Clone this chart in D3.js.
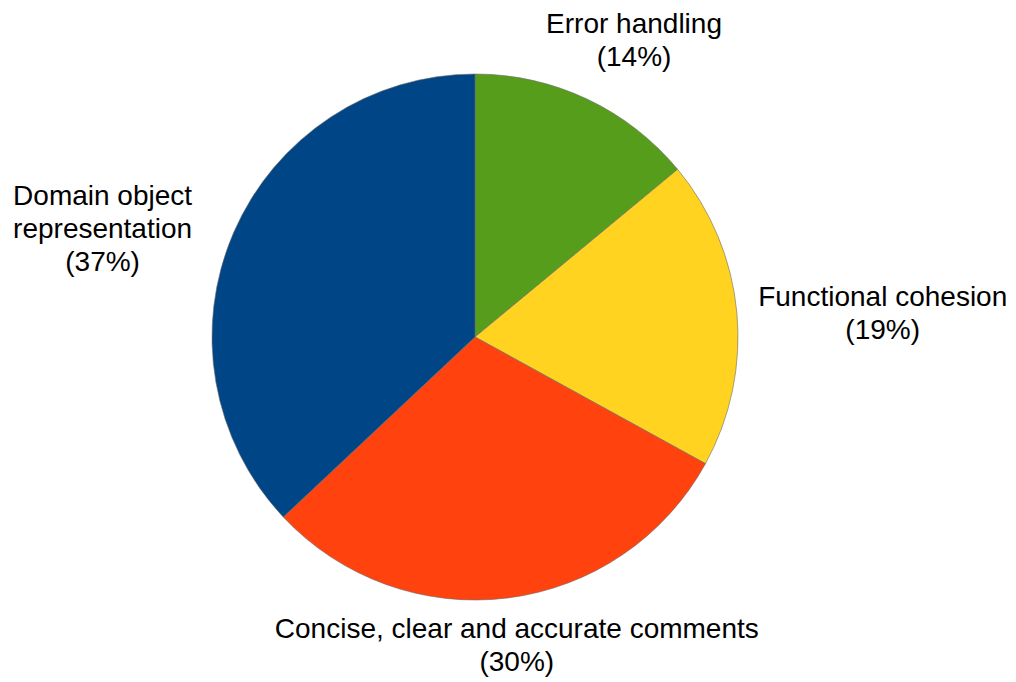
<!DOCTYPE html>
<html>
<head>
<meta charset="utf-8">
<script src="https://cdn.jsdelivr.net/npm/d3@7"></script>
<style>
  html, body { margin: 0; padding: 0; background: #fff; }
  svg { display: block; }
</style>
</head>
<body>
<svg id="chart" width="1016" height="682"></svg>
<script>
// Share of each quality attribute, clockwise from 12 o'clock
const categories = ["Error handling", "Functional cohesion", "Concise, clear and accurate comments", "Domain object representation"];
const labelLines = [["Error handling"], ["Functional cohesion"], ["Concise, clear and accurate comments"], ["Domain object", "representation"]];
const values = [14, 19, 30, 37];
const colors = ["#579d1c", "#ffd320", "#ff420e", "#004586"];

// Layout
const width = 1016, height = 682;
const cx = 475, cy = 337, radius = 263;
const labelGap = [32, 21, 12, 40];
const labelNudge = [[-4, -1], [1, 6], [-23, 3], [-12, 31]];
const fontSize = 28, lineHeight = 33;

const svg = d3.select("#chart");
const g = svg.append("g").attr("transform", `translate(${cx},${cy})`);

const pie = d3.pie().sort(null).value(d => d.value);
const data = pie(categories.map((c, i) => ({
  name: c, value: values[i], lines: labelLines[i], color: colors[i],
  gap: labelGap[i], nudge: labelNudge[i]
})));
const arc = d3.arc().innerRadius(0).outerRadius(radius);

g.selectAll("path.slice")
  .data(data)
  .join("path")
  .attr("class", "slice")
  .attr("d", arc)
  .attr("fill", d => d.data.color)
  .attr("stroke", "#6b6b6b")
  .attr("stroke-width", 0.6);

const labels = g.selectAll("text.label")
  .data(data)
  .join("text")
  .attr("class", "label")
  .attr("font-family", "'Liberation Sans', Arial, sans-serif")
  .attr("font-size", fontSize)
  .attr("fill", "#000")
  .attr("text-anchor", "middle");

labels.each(function(d) {
  const t = d3.select(this);
  const lines = d.data.lines.concat([`(${d.data.value}%)`]);
  lines.forEach((s, i) => {
    t.append("tspan").attr("x", 0).attr("y", i * lineHeight).text(s);
  });
  // Place the text block just outside the rim, pushed away along the slice's mid-angle
  const a = (d.startAngle + d.endAngle) / 2;
  const r = radius + d.data.gap;
  const ax = r * Math.sin(a), ay = -r * Math.cos(a);
  const bb = this.getBBox();
  const bcx = ax + (bb.width / 2) * Math.sin(a);
  const bcy = ay - (bb.height / 2) * Math.cos(a);
  const dx = bcx - (bb.x + bb.width / 2) + d.data.nudge[0];
  const dy = bcy - (bb.y + bb.height / 2) + d.data.nudge[1];
  t.attr("transform", `translate(${dx},${dy})`);
});
</script>
</body>
</html>
